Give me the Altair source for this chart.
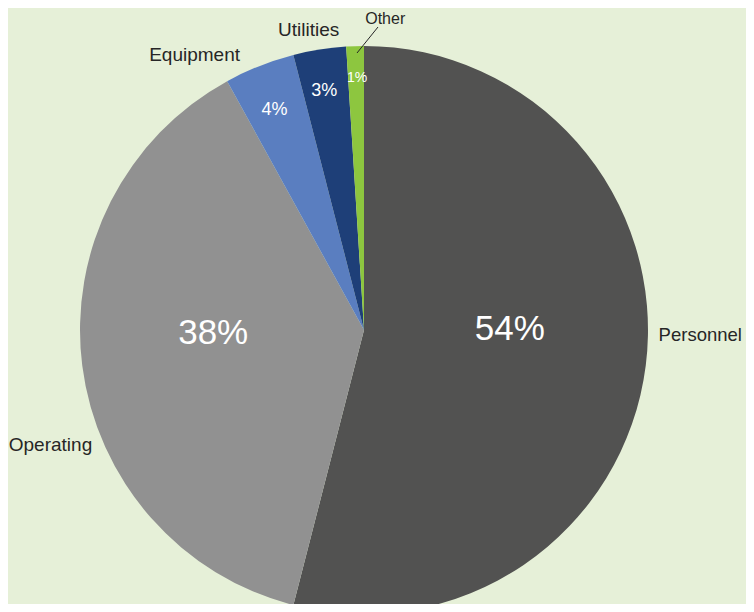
import math
import altair as alt
import pandas as pd

categories = ["Personnel", "Operating", "Equipment", "Utilities", "Other"]
values = [54, 38, 4, 3, 1]
colors = ["#525251", "#919191", "#5A7EC0", "#1E3F78", "#8DC63F"]
pct_labels = [f"{v}%" for v in values]

df = pd.DataFrame({
    "category": categories,
    "value": values,
    "pct": pct_labels,
    "order": list(range(len(categories))),
})

FONT = "Liberation Sans"
CX, CY = 356, 322
theta_scale = alt.Scale(domain=[0, 100], range=[0, 2 * math.pi])

base = alt.Chart(df).transform_window(
    cum="sum(value)", sort=[alt.SortField("order")]
).transform_calculate(mid="datum.cum - datum.value / 2")

arcs = base.mark_arc(outerRadius=284).encode(
    theta=alt.Theta("value:Q", stack=True, scale=theta_scale),
    order=alt.Order("order:Q"),
    color=alt.Color("category:N", scale=alt.Scale(domain=categories, range=colors), legend=None),
    x=alt.value(CX),
    y=alt.value(CY),
)

# (radius, dx, dy, fontSize) for percentage labels inside
inner_style = {
    "Personnel": (147, 0, -19, 35),
    "Operating": (152, 0, -16, 35),
    "Equipment": (238, -2, 1, 18),
    "Utilities": (242, -2, 0, 18),
    "Other": (252, 1, 0, 14),
}
# outer category labels
outer_style = {
    "Personnel": (345, -6, -38, 18.5),
    "Operating": (316, 0, 75, 19),
    "Equipment": (300, -59, 4, 19),
    "Utilities": (303, -8, -1, 19),
    "Other": (311, 31, 0, 16),
}

layers = [arcs]
for cat in categories:
    r, dx, dy, fs = inner_style[cat]
    layers.append(
        base.transform_filter(alt.datum.category == cat).mark_text(
            radius=r, dx=dx, dy=dy, fontSize=fs, font=FONT, color="white",
            align="center", baseline="middle",
        ).encode(
            theta=alt.Theta("mid:Q", scale=theta_scale),
            text="pct:N",
            x=alt.value(CX), y=alt.value(CY),
        )
    )
    r, dx, dy, fs = outer_style[cat]
    layers.append(
        base.transform_filter(alt.datum.category == cat).mark_text(
            radius=r, dx=dx, dy=dy, fontSize=fs, font=FONT, color="#262626",
            align="center", baseline="middle",
        ).encode(
            theta=alt.Theta("mid:Q", scale=theta_scale),
            text="category:N",
            x=alt.value(CX), y=alt.value(CY),
        )
    )

leader = alt.Chart(df).transform_filter(alt.datum.category == "Other").mark_rule(
    color="#262626", strokeWidth=1
).encode(
    x=alt.value(349), y=alt.value(45), x2=alt.value(370), y2=alt.value(19)
)
layers.append(leader)

chart = alt.layer(*layers).properties(
    width=738, height=596, padding=0, autosize=alt.AutoSizeParams(type="none"),
    background="#E6F0D8",
).configure_view(stroke=None)

chart.save("out.html", embed_options={"renderer": "svg", "actions": False})
